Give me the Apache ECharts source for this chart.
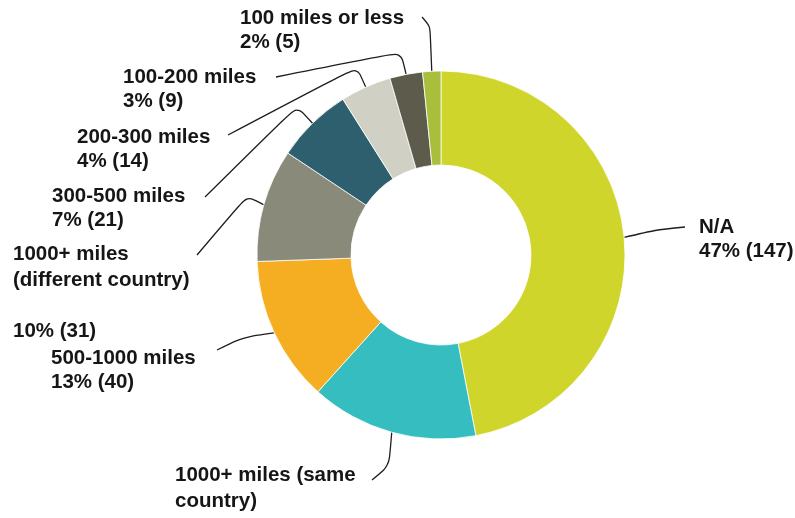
<!DOCTYPE html>
<html>
<head>
<meta charset="utf-8">
<script src="https://cdn.jsdelivr.net/npm/echarts@6/dist/echarts.min.js"></script>
<style>
html,body{margin:0;padding:0;background:#fff;}
#chart{width:795px;height:518px;}
</style>
</head>
<body>
<div id="chart"></div>
<script>
// Data
const categories = [
  'N/A',
  '1000+ miles (same\ncountry)',
  '500-1000 miles',
  '1000+ miles\n(different country)\n',
  '300-500 miles',
  '200-300 miles',
  '100-200 miles',
  '100 miles or less'
];
const values = [147, 46, 40, 31, 21, 14, 9, 5];
const colors = ['#cfd52b', '#35bdbf', '#f5ae22', '#8a8a7a', '#2e5f6e', '#d1d0c4', '#5d5b4c', '#a9bf3b'];

// Label placement (layout only)
const labelLayouts = [
  {x: 699, y: 215, pts: [[655, 230], [685, 227]]},
  {x: 175, y: 462, lh: 26.5, pts: [[389, 466], [372, 480]]},
  {x: 51,  y: 346, pts: [[244, 337], [217, 350]]},
  {x: 13,  y: 242, lh: 25.6, pts: [[247, 196], [197, 255]]},
  {x: 52,  y: 184, pts: [[297, 106], [205, 197]]},
  {x: 77,  y: 125, pts: [[357, 67], [228, 135]]},
  {x: 123, y: 65,  pts: [[401, 52], [276, 77]]},
  {x: 240, y: 6,   pts: [[430, 26], [422, 17]]}
];

const total = values.reduce((a, b) => a + b, 0);
const chart = echarts.init(document.getElementById('chart'), null, {renderer: 'canvas'});

const data = categories.map((name, i) => {
  const item = {name: name, value: values[i], itemStyle: {color: colors[i]}};
  if (labelLayouts[i].lh) item.label = {lineHeight: labelLayouts[i].lh};
  return item;
});

chart.setOption({
  animation: false,
  backgroundColor: '#ffffff',
  series: [{
    type: 'pie',
    center: [441, 255],
    radius: [90, 184],
    startAngle: 90,
    clockwise: true,
    avoidLabelOverlap: false,
    emphasis: {disabled: true},
    itemStyle: {borderColor: '#ffffff', borderWidth: 0.8},
    label: {
      show: true,
      position: 'outside',
      color: '#161616',
      fontFamily: '"Liberation Sans", Arial, sans-serif',
      fontWeight: 'bold',
      fontSize: 20.5,
      lineHeight: 24,
      formatter: function (p) {
        const pct = Math.round(p.value / total * 100);
        return p.name + '\n' + pct + '% (' + p.value + ')';
      }
    },
    labelLine: {
      show: true,
      smooth: 0.25,
      lineStyle: {color: '#1e1e1e', width: 1.3}
    },
    labelLayout: function (params) {
      const L = labelLayouts[params.dataIndex];
      const p0 = params.labelLinePoints ? params.labelLinePoints[0] : L.pts[0];
      return {
        x: L.x,
        y: L.y,
        align: 'left',
        verticalAlign: 'top',
        labelLinePoints: [p0].concat(L.pts)
      };
    },
    data: data
  }]
});
</script>
</body>
</html>
